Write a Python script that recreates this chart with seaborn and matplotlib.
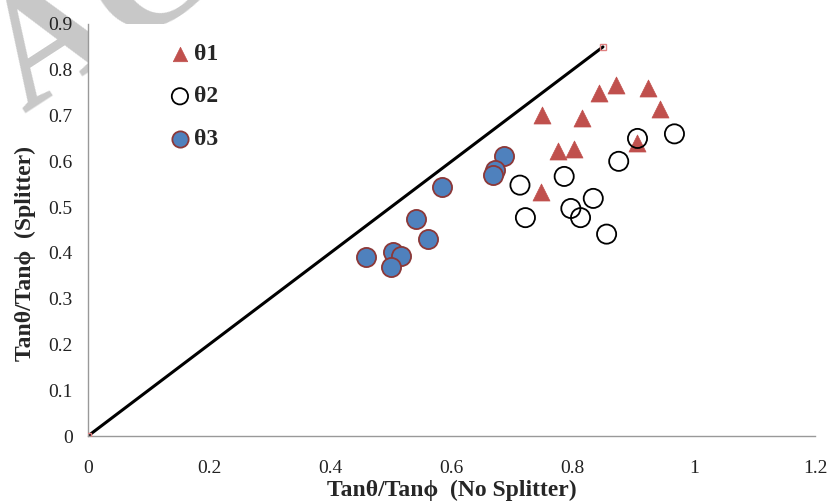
import matplotlib
matplotlib.use("Agg")
import matplotlib.pyplot as plt
import pandas as pd
import seaborn as sns

# data
theta1_x = [0.749, 0.816, 0.843, 0.872, 0.925, 0.944, 0.775, 0.803, 0.907, 0.747]
theta1_y = [0.701, 0.694, 0.749, 0.767, 0.760, 0.714, 0.623, 0.628, 0.639, 0.534]

theta2_x = [0.907, 0.968, 0.876, 0.786, 0.713, 0.834, 0.797, 0.813, 0.722, 0.856]
theta2_y = [0.650, 0.660, 0.600, 0.567, 0.548, 0.519, 0.497, 0.477, 0.477, 0.441]

theta3_x = [0.686, 0.672, 0.668, 0.584, 0.542, 0.562, 0.459, 0.504, 0.517, 0.500]
theta3_y = [0.612, 0.580, 0.570, 0.543, 0.473, 0.430, 0.390, 0.401, 0.393, 0.370]

line_x = [0, 0.85]
line_y = [0, 0.85]

x_ticks = [0, 0.2, 0.4, 0.6, 0.8, 1, 1.2]
y_ticks = [0, 0.1, 0.2, 0.3, 0.4, 0.5, 0.6, 0.7, 0.8, 0.9]

sns.set_style("white")
plt.rcParams['font.family'] = ['Liberation Serif', 'DejaVu Serif']

fig, ax = plt.subplots(figsize=(8.27, 5.03), dpi=100)
fig.subplots_adjust(left=0.1064, right=0.9855, top=0.9523, bottom=0.1332)
ax.set_zorder(1)
ax.patch.set_facecolor("white")

# watermark (mostly hidden behind the plot area)
fig.text(0.030, 0.772, "ACCEPTED MANUSCRIPT", fontsize=118, color="#c8c8c8",
         fontweight="bold", rotation=33, ha="left", va="baseline",
         rotation_mode="anchor", zorder=0)

# 1:1 line
ax.plot(line_x, line_y, color="black", lw=2.2, zorder=2)
ax.plot(line_x, line_y, ls="none", marker="s", ms=4, mfc="none", mec="#e08080", zorder=3)

df1 = pd.DataFrame({"x": theta1_x, "y": theta1_y})
df2 = pd.DataFrame({"x": theta2_x, "y": theta2_y})
df3 = pd.DataFrame({"x": theta3_x, "y": theta3_y})

sns.scatterplot(data=df1, x="x", y="y", marker="^", s=150, color="#C0504D",
                edgecolor="#C0504D", linewidth=0.5, label="θ1", ax=ax, zorder=4)
sns.scatterplot(data=df2, x="x", y="y", marker="o", s=190, facecolor="none",
                edgecolor="black", linewidth=1.3, label="θ2", ax=ax, zorder=4)
sns.scatterplot(data=df3, x="x", y="y", marker="o", s=190, color="#4F81BD",
                edgecolor="#8C3838", linewidth=1.3, label="θ3", ax=ax, zorder=5)

ax.set_xlim(0, 1.2)
ax.set_ylim(0, 0.9)
ax.set_xticks(x_ticks)
ax.set_xticklabels([str(t) for t in x_ticks])
ax.set_yticks(y_ticks)
ax.set_yticklabels([str(t) for t in y_ticks])
ax.tick_params(axis="both", labelsize=14, length=5, color="#999999", direction="out",
               labelcolor="#222222", pad=6)
ax.tick_params(axis="x", pad=12)
for side in ["top", "right"]:
    ax.spines[side].set_visible(False)
for side in ["left", "bottom"]:
    ax.spines[side].set_color("#999999")
    ax.spines[side].set_linewidth(1)

ax.set_xlabel("Tanθ/Tanϕ  (No Splitter)", fontsize=17, fontweight="bold", labelpad=2)
ax.set_ylabel("Tanθ/Tanϕ  (Splitter)", fontsize=17, fontweight="bold")
ax.yaxis.set_label_coords(-0.072, 0.442)

leg = ax.legend(loc="upper left", bbox_to_anchor=(0.081, 1.005), frameon=False,
                handlelength=1.0, handletextpad=0.1, labelspacing=0.9,
                markerscale=0.85, prop={"weight": "bold", "size": 17})

fig.savefig("out.png", dpi=100)
